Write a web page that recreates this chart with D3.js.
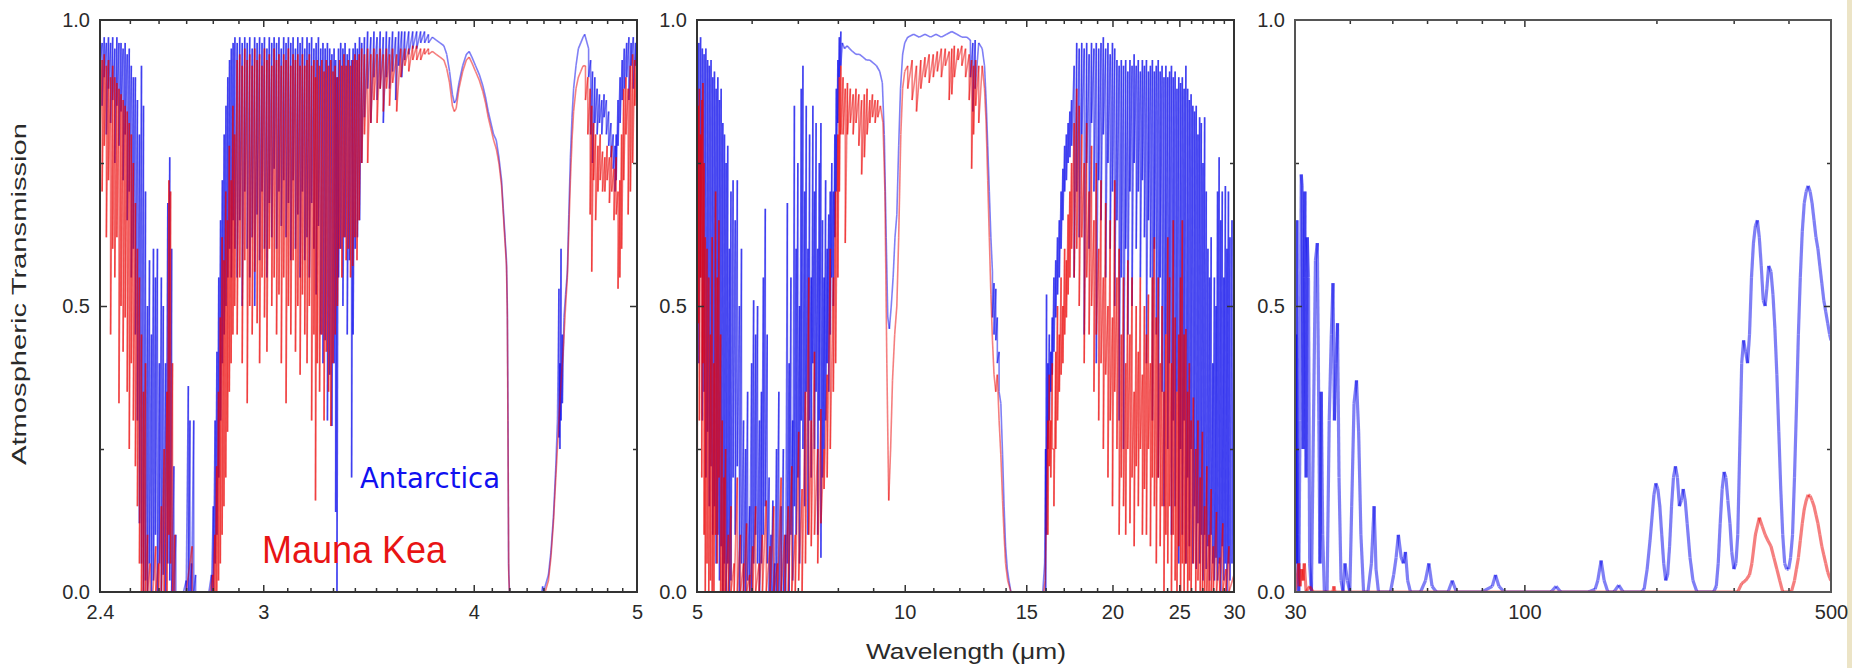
<!DOCTYPE html>
<html><head><meta charset="utf-8">
<script src="https://cdn.jsdelivr.net/npm/d3@7"></script>
<style>html,body{margin:0;padding:0;background:#fff;} svg{display:block;}</style>
</head><body>
<svg id="chart" width="1852" height="668"></svg>
<script>
// ---------------- DATA ----------------
// Each entry: [wavelength (µm), transmission] or [wavelength, max, min] for a densely-lined bin
const yTickValues = [0, 0.5, 1];
const yMinorValues = [0.25, 0.75];

const nirDomain = [2.4, 5];
const nirTickValues = [2.4, 3, 4, 5];
const nirMinorValues = [2.5,2.6,2.7,2.8,2.9,3.1,3.2,3.3,3.4,3.5,3.6,3.7,3.8,3.9,4.1,4.2,4.3,4.4,4.5,4.6,4.7,4.8,4.9];

const midDomain = [5, 30];
const midTickValues = [5, 10, 15, 20, 25, 30];
const midMinorValues = [6,7,8,9,11,12,13,14,16,17,18,19,21,22,23,24,26,27,28,29];

const farDomain = [30, 500];
const farTickValues = [30, 100, 500];
const farMinorValues = [40,50,60,70,80,90,200,300,400];

const nirAntarctica = [
[2.400,0.97,0.92],[2.407,0.96,0.85],[2.414,0.97,0.90],[2.421,0.96,0.80],[2.428,0.97,0.88],[2.435,0.96,0.82],[2.442,0.97,0.86],[2.449,0.95,0.75],[2.456,0.97,0.85],[2.463,0.96,0.78],[2.470,0.96,0.84],[2.477,0.95,0.72],[2.484,0.96,0.80],[2.491,0.94,0.65],[2.498,0.95,0.70],[2.505,0.92,0.55],[2.512,0.90,0.60],
[2.519,0.90,0.45],[2.526,0.86,0.30],[2.533,0.80,0.12],[2.540,0.92,0.05],[2.547,0.85,0.00],[2.554,0.70,0.02],[2.561,0.50,0.00],[2.568,0.58,0.05],[2.575,0.45,0.00],[2.582,0.60,0.02],[2.589,0.55,0.10],[2.596,0.60,0.00],[2.603,0.40,0.05],[2.610,0.55,0.00],[2.617,0.50,0.03],[2.625,0.40,0.00],[2.633,0.68,0.05],[2.640,0.76,0.02],[2.647,0.60,0.00],[2.655,0.22,0.00],[2.662,0.10,0.00],[2.670,0.00],
[2.690,0.00],[2.700,0.02,0.00],[2.708,0.36,0.00],[2.714,0.30,0.00],[2.720,0.05,0.00],[2.728,0.30,0.00],[2.735,0.03,0.00],[2.750,0.00],[2.785,0.00],
[2.795,0.03,0.00],[2.802,0.15,0.00],[2.809,0.30,0.05],[2.816,0.42,0.10],[2.823,0.55,0.20],[2.830,0.65,0.30],[2.837,0.72,0.40],[2.844,0.80,0.45],[2.851,0.85,0.50],[2.858,0.90,0.55],[2.865,0.93,0.60],[2.872,0.95,0.55],[2.879,0.96,0.65],[2.886,0.97,0.60],
[2.895,0.96,0.55],[2.905,0.97,0.65],[2.915,0.96,0.50],[2.925,0.97,0.70],[2.935,0.96,0.60],[2.945,0.97,0.55],[2.955,0.95,0.62],[2.965,0.97,0.50],[2.975,0.96,0.66],[2.985,0.97,0.58],[2.995,0.96,0.70],[3.005,0.97,0.60],[3.015,0.95,0.55],[3.025,0.97,0.68],[3.035,0.96,0.62],[3.045,0.97,0.74],[3.055,0.96,0.60],[3.065,0.97,0.70],[3.075,0.95,0.64],[3.085,0.97,0.72],[3.095,0.96,0.62],[3.105,0.97,0.68],[3.115,0.96,0.58],[3.125,0.97,0.72],[3.135,0.95,0.60],[3.145,0.97,0.66],[3.155,0.96,0.55],[3.165,0.97,0.70],[3.175,0.95,0.58],[3.185,0.97,0.62],[3.195,0.96,0.55],[3.205,0.97,0.68],[3.215,0.95,0.60],[3.225,0.96,0.52],[3.235,0.97,0.64],[3.245,0.95,0.45],[3.255,0.96,0.40],[3.265,0.95,0.44],[3.275,0.96,0.30],[3.285,0.95,0.38],[3.295,0.94,0.29],[3.305,0.95,0.40],[3.312,0.93,0.14],[3.318,0.90,0.00],[3.325,0.95,0.55],[3.335,0.96,0.60],[3.345,0.95,0.50],[3.355,0.96,0.62],[3.365,0.94,0.45],[3.375,0.95,0.58],[3.385,0.93,0.20],[3.392,0.95,0.45],[3.402,0.96,0.60],[3.412,0.95,0.62],[3.422,0.97,0.65],[3.432,0.96,0.75],
[3.445,0.97,0.83],[3.460,0.98,0.88],[3.475,0.97,0.82],[3.490,0.98,0.90],[3.505,0.97,0.86],[3.520,0.98,0.88],[3.535,0.97,0.82],[3.550,0.98,0.90],[3.565,0.97,0.88],[3.580,0.98,0.91],[3.595,0.97,0.86],[3.610,0.98,0.92],[3.625,0.98,0.90],[3.640,0.98,0.93],[3.660,0.98,0.94],[3.680,0.98,0.95],[3.700,0.98,0.95],[3.720,0.98,0.96],[3.740,0.98,0.96],[3.760,0.975,0.96],[3.780,0.97],[3.800,0.965],[3.820,0.96],[3.840,0.955],[3.855,0.94],
[3.870,0.91],[3.885,0.87],[3.895,0.855],[3.905,0.86],[3.920,0.89],[3.940,0.92],[3.960,0.94],[3.975,0.945],[3.990,0.935],[4.010,0.92],[4.030,0.905],[4.050,0.885],[4.065,0.865],[4.080,0.84],[4.095,0.82],[4.110,0.80],[4.125,0.79],[4.140,0.76],[4.155,0.72],[4.165,0.67],[4.175,0.62],[4.183,0.58],[4.188,0.50],[4.192,0.30],[4.195,0.05],[4.200,0.00],
[4.300,0.00],[4.390,0.00],[4.395,0.01],[4.400,0.00],
[4.410,0.01],[4.430,0.03],[4.445,0.07],[4.460,0.13],[4.475,0.22],[4.485,0.30],[4.494,0.53,0.27],[4.500,0.40,0.25],[4.507,0.60,0.30],[4.515,0.45,0.33],[4.525,0.48],[4.535,0.52],[4.546,0.56],[4.555,0.66],[4.565,0.76],[4.575,0.83],[4.585,0.88],[4.600,0.92],[4.615,0.95],[4.630,0.96],[4.645,0.97],[4.655,0.975],
[4.665,0.965],[4.680,0.95,0.90],[4.693,0.93,0.80],[4.705,0.91,0.75],[4.720,0.90,0.82],[4.735,0.88,0.80],[4.750,0.87,0.82],[4.765,0.86,0.80],[4.780,0.87,0.83],[4.795,0.86,0.80],[4.810,0.84,0.78],[4.825,0.82,0.76],[4.840,0.80,0.74],[4.852,0.78,0.70],[4.860,0.80,0.72],[4.872,0.86,0.78],[4.886,0.90,0.82],[4.900,0.93,0.86],[4.914,0.95,0.88],[4.930,0.96,0.90],[4.945,0.97,0.86],[4.960,0.96,0.92],[4.975,0.97,0.88],[4.990,0.96,0.92],[5.000,0.97,0.93]
];

const nirMaunaKea = [
[2.400,0.95,0.80],[2.407,0.93,0.70],[2.414,0.94,0.78],[2.421,0.92,0.62],[2.428,0.93,0.72],[2.435,0.90,0.45],[2.442,0.92,0.60],[2.449,0.90,0.55],[2.456,0.89,0.62],[2.463,0.88,0.33],[2.470,0.87,0.50],[2.477,0.86,0.42],[2.484,0.85,0.48],[2.491,0.84,0.35],[2.498,0.82,0.25],[2.505,0.80,0.40],[2.512,0.75,0.30],[2.519,0.68,0.22],[2.526,0.60,0.15],[2.533,0.55,0.05],[2.540,0.45,0.00],[2.547,0.35,0.00],[2.554,0.40,0.00],[2.561,0.10,0.00],[2.570,0.05,0.00],[2.580,0.00],[2.590,0.08,0.00],[2.600,0.05,0.00],[2.610,0.15,0.00],[2.620,0.25,0.00],[2.630,0.35,0.00],[2.637,0.72,0.10],[2.643,0.70,0.05],[2.650,0.40,0.00],[2.658,0.10,0.00],[2.665,0.00],
[2.700,0.00],[2.722,0.08,0.00],[2.730,0.00],[2.790,0.00],
[2.800,0.03,0.00],[2.808,0.10,0.00],[2.815,0.22,0.00],[2.822,0.35,0.02],[2.829,0.48,0.05],[2.836,0.62,0.10],[2.843,0.58,0.15],[2.850,0.70,0.20],[2.857,0.65,0.28],[2.864,0.78,0.35],[2.871,0.72,0.40],[2.878,0.85,0.45],[2.885,0.80,0.50],
[2.895,0.93,0.45],[2.905,0.94,0.55],[2.915,0.92,0.40],[2.925,0.95,0.58],[2.935,0.93,0.33],[2.945,0.94,0.50],[2.955,0.92,0.45],[2.965,0.95,0.56],[2.975,0.93,0.47],[2.985,0.94,0.40],[2.995,0.92,0.55],[3.005,0.95,0.48],[3.015,0.93,0.42],[3.025,0.94,0.60],[3.035,0.92,0.50],[3.045,0.95,0.55],[3.055,0.93,0.45],[3.065,0.94,0.52],[3.075,0.92,0.40],[3.085,0.94,0.55],[3.095,0.93,0.33],[3.105,0.95,0.50],[3.115,0.92,0.45],[3.125,0.94,0.58],[3.135,0.93,0.42],[3.145,0.94,0.50],[3.155,0.92,0.38],[3.165,0.94,0.52],[3.175,0.92,0.45],[3.185,0.93,0.40],[3.195,0.94,0.50],[3.205,0.92,0.30],[3.215,0.93,0.45],[3.222,0.90,0.16],[3.230,0.93,0.40],[3.240,0.92,0.35],[3.250,0.93,0.45],[3.260,0.91,0.30],[3.270,0.93,0.42],[3.280,0.92,0.35],[3.290,0.93,0.29],[3.300,0.91,0.40],[3.310,0.92,0.45],[3.320,0.90,0.50],[3.330,0.93,0.60],[3.340,0.92,0.55],[3.350,0.94,0.62],[3.360,0.92,0.58],[3.370,0.93,0.60],[3.380,0.92,0.55],[3.390,0.93,0.57],[3.400,0.94,0.62],[3.410,0.93,0.58],[3.420,0.94,0.65],[3.432,0.95,0.75],
[3.445,0.94,0.80],[3.460,0.95,0.75],[3.475,0.94,0.82],[3.490,0.95,0.86],[3.505,0.94,0.82],[3.520,0.95,0.88],[3.535,0.94,0.84],[3.550,0.95,0.88],[3.565,0.94,0.85],[3.580,0.95,0.89],[3.600,0.94,0.84],[3.620,0.95,0.90],[3.640,0.95,0.92],[3.660,0.95,0.91],[3.680,0.955,0.93],[3.700,0.955,0.93],[3.720,0.95,0.93],[3.740,0.95,0.94],[3.760,0.95,0.94],[3.780,0.945],[3.800,0.94],[3.820,0.935],[3.840,0.93],[3.855,0.915],
[3.870,0.89],[3.885,0.85],[3.895,0.84],[3.905,0.845],[3.920,0.88],[3.940,0.91],[3.960,0.93],[3.975,0.935],[3.990,0.925],[4.010,0.91],[4.030,0.895],[4.050,0.875],[4.065,0.855],[4.080,0.83],[4.095,0.81],[4.110,0.79],[4.125,0.775],[4.140,0.75],[4.155,0.71],[4.165,0.66],[4.175,0.61],[4.183,0.57],[4.188,0.48],[4.192,0.25],[4.196,0.03],[4.200,0.00],
[4.300,0.00],[4.400,0.00],
[4.410,0.00],[4.430,0.02],[4.445,0.06],[4.460,0.12],[4.475,0.20],[4.490,0.28],[4.505,0.36],[4.520,0.42],[4.535,0.50],[4.546,0.55],[4.555,0.63],[4.565,0.72],[4.575,0.79],[4.585,0.84],[4.600,0.88],[4.615,0.90],[4.630,0.91],[4.645,0.92],
[4.660,0.92,0.86],[4.675,0.90,0.80],[4.690,0.88,0.66],[4.700,0.85,0.56],[4.712,0.82,0.72],[4.725,0.80,0.65],[4.740,0.78,0.70],[4.755,0.80,0.72],[4.770,0.77,0.70],[4.785,0.76,0.70],[4.800,0.78,0.72],[4.815,0.76,0.68],[4.830,0.78,0.70],[4.845,0.74,0.65],[4.860,0.76,0.66],[4.872,0.70,0.53],[4.884,0.72,0.55],[4.896,0.80,0.60],[4.910,0.88,0.72],[4.925,0.90,0.80],[4.940,0.88,0.66],[4.955,0.92,0.70],[4.970,0.94,0.75],[4.985,0.93,0.85],[5.000,0.95,0.90]
];

const midAntarctica = [
[5.00,0.97,0.50],[5.03,0.96,0.40],[5.06,0.97,0.55],[5.09,0.95,0.30],[5.12,0.94,0.35],[5.15,0.95,0.20],[5.18,0.93,0.28],[5.21,0.92,0.15],[5.24,0.93,0.22],[5.27,0.90,0.10],[5.30,0.91,0.15],[5.33,0.88,0.05],[5.36,0.90,0.10],[5.39,0.86,0.02],[5.42,0.88,0.08],[5.45,0.82,0.00],[5.48,0.80,0.05],[5.51,0.75,0.00],[5.54,0.78,0.05],[5.57,0.60,0.00],
[5.60,0.70,0.02],[5.64,0.72,0.20],[5.68,0.65,0.10],[5.72,0.72,0.22],[5.76,0.50,0.00],[5.80,0.60,0.05],[5.84,0.30,0.00],[5.88,0.25,0.00],[5.92,0.35,0.02],[5.96,0.15,0.00],[6.00,0.40,0.00],[6.04,0.51,0.05],[6.08,0.45,0.10],[6.12,0.50,0.05],[6.16,0.30,0.00],[6.20,0.35,0.05],[6.24,0.55,0.10],[6.28,0.67,0.15],[6.32,0.45,0.05],[6.36,0.20,0.00],[6.40,0.10,0.00],[6.44,0.16,0.00],[6.48,0.05,0.00],[6.52,0.25,0.00],[6.57,0.35,0.00],[6.62,0.15,0.00],[6.67,0.25,0.00],[6.72,0.10,0.00],
[6.76,0.68,0.05],[6.80,0.40,0.00],[6.84,0.55,0.10],[6.88,0.30,0.02],[6.92,0.85,0.15],[6.96,0.60,0.10],[7.00,0.75,0.20],[7.04,0.50,0.05],[7.08,0.88,0.30],[7.12,0.92,0.25],[7.16,0.70,0.15],[7.20,0.85,0.35],[7.24,0.60,0.10],[7.28,0.80,0.30],[7.32,0.55,0.20],[7.36,0.85,0.40],[7.40,0.70,0.25],[7.44,0.82,0.35],[7.48,0.60,0.10],[7.52,0.75,0.30],[7.56,0.82,0.06],[7.60,0.65,0.20],[7.64,0.55,0.25],[7.68,0.72,0.30],[7.72,0.60,0.40],[7.76,0.66,0.35],[7.80,0.70,0.45],[7.84,0.75,0.55],[7.88,0.70,0.50],[7.92,0.80,0.62],[7.96,0.88,0.70],
[8.00,0.93,0.82],[8.04,0.97,0.90],[8.08,0.98,0.92],[8.12,0.96],[8.18,0.95],[8.25,0.955],[8.32,0.95],[8.40,0.945],[8.50,0.94],[8.60,0.94],[8.70,0.935],[8.80,0.93],[8.90,0.93],[9.00,0.925],[9.10,0.92],[9.20,0.91],[9.28,0.89],[9.34,0.80],[9.40,0.62],[9.45,0.48],[9.50,0.46],[9.56,0.50],[9.62,0.55],[9.68,0.62],[9.74,0.66],[9.80,0.78],[9.86,0.88],[9.93,0.94],[10.00,0.96],
[10.10,0.97],[10.30,0.975],[10.50,0.97],[10.70,0.975],[10.90,0.97],[11.10,0.975],[11.30,0.97],[11.50,0.975],[11.70,0.98],[11.90,0.975],[12.10,0.97],[12.30,0.97],[12.45,0.965,0.90],[12.55,0.96,0.84],[12.65,0.965,0.88],[12.80,0.96],[12.95,0.95],
[13.05,0.92],[13.12,0.86],[13.19,0.78],[13.26,0.70],[13.33,0.62],[13.40,0.56,0.48],[13.47,0.54,0.45],[13.55,0.53,0.44],[13.62,0.48,0.40],[13.70,0.42,0.35],[13.78,0.33],[13.86,0.24],[13.93,0.15],[14.00,0.08],[14.08,0.04],[14.16,0.02],[14.25,0.00],
[15.00,0.00],[15.85,0.00],
[15.95,0.05],[16.00,0.25,0.00],[16.05,0.52,0.10],[16.12,0.40,0.25],[16.20,0.45,0.30],[16.28,0.42,0.35],[16.36,0.48,0.38],[16.45,0.55,0.42],[16.55,0.58,0.48],[16.65,0.62,0.52],[16.75,0.65,0.55],[16.85,0.70,0.60],[16.95,0.74,0.65],[17.05,0.78,0.70],[17.15,0.80,0.72],[17.25,0.82,0.75],[17.35,0.84,0.76],[17.45,0.86,0.78],
[17.60,0.92,0.55],[17.75,0.96,0.70],[17.90,0.95,0.62],[18.05,0.96,0.80],[18.20,0.95,0.45],[18.35,0.96,0.75],[18.50,0.94,0.60],[18.65,0.96,0.82],[18.80,0.95,0.70],[18.95,0.96,0.40],[19.10,0.95,0.72],[19.25,0.96,0.65],[19.40,0.97,0.80],[19.55,0.95,0.55],[19.70,0.96,0.75],[19.85,0.94,0.60],[20.00,0.96,0.70],[20.15,0.95,0.50],[20.30,0.93,0.65],[20.45,0.92,0.30],[20.60,0.93,0.55],[20.75,0.92,0.25],[20.90,0.93,0.60],[21.05,0.91,0.45],[21.20,0.93,0.70],[21.35,0.92,0.50],[21.50,0.94,0.75],[21.65,0.92,0.60],[21.80,0.93,0.70],[21.95,0.91,0.55],[22.10,0.93,0.72],[22.25,0.92,0.62],[22.40,0.93,0.40],[22.55,0.91,0.65],[22.70,0.92,0.55],[22.85,0.93,0.30],[23.00,0.91,0.60],[23.15,0.92,0.45],[23.30,0.93,0.20],[23.45,0.91,0.55],[23.60,0.92,0.35],[23.75,0.90,0.15],[23.90,0.92,0.45],[24.05,0.90,0.25],[24.20,0.91,0.40],[24.35,0.92,0.10],[24.50,0.90,0.30],[24.65,0.91,0.15],[24.80,0.88,0.35],[24.95,0.90,0.05],[25.10,0.89,0.25],[25.25,0.90,0.10],[25.40,0.88,0.30],[25.55,0.92,0.05],[25.70,0.88,0.20],[25.85,0.86,0.08],[26.00,0.87,0.25],[26.15,0.85,0.05],[26.30,0.84,0.15],[26.45,0.85,0.04],[26.60,0.80,0.12],[26.75,0.83,0.05],[26.90,0.82,0.10],[27.05,0.75,0.02],[27.20,0.83,0.10],[27.35,0.70,0.04],[27.50,0.60,0.08],[27.65,0.55,0.02],[27.80,0.62,0.10],[27.95,0.40,0.05],[28.10,0.55,0.02],[28.25,0.50,0.06],[28.40,0.70,0.02],[28.55,0.76,0.05],[28.70,0.65,0.00],[28.85,0.70,0.08],[29.00,0.55,0.02],[29.15,0.71,0.05],[29.30,0.60,0.00],[29.45,0.70,0.05],[29.60,0.62,0.02],[29.80,0.65,0.05],[30.00,0.60,0.00]
];

const midMaunaKea = [
[5.00,0.90,0.05],[5.02,0.85,0.47],[5.04,0.88,0.30],[5.06,0.80,0.55],[5.08,0.86,0.20],[5.10,0.89,0.40],[5.12,0.75,0.10],[5.14,0.62,0.00],[5.17,0.60,0.05],[5.20,0.55,0.00],[5.23,0.45,0.02],[5.26,0.62,0.00],[5.29,0.40,0.00],[5.32,0.70,0.10],[5.35,0.55,0.05],[5.38,0.65,0.20],[5.41,0.45,0.00],[5.44,0.30,0.00],[5.47,0.20,0.00],[5.50,0.25,0.00],[5.55,0.10,0.00],
[5.60,0.15,0.00],[5.66,0.05,0.00],[5.72,0.20,0.00],[5.78,0.10,0.00],[5.84,0.05,0.00],[5.90,0.12,0.00],[5.96,0.03,0.00],[6.02,0.08,0.00],[6.08,0.15,0.00],[6.15,0.05,0.00],[6.22,0.10,0.00],[6.30,0.16,0.00],[6.38,0.08,0.00],[6.46,0.15,0.00],[6.54,0.05,0.00],[6.62,0.20,0.00],[6.70,0.10,0.00],
[6.78,0.15,0.00],[6.86,0.22,0.00],[6.94,0.10,0.00],[7.02,0.28,0.02],[7.10,0.18,0.00],[7.18,0.35,0.05],[7.26,0.55,0.10],[7.32,0.30,0.08],[7.40,0.42,0.10],[7.48,0.25,0.05],[7.56,0.32,0.12],[7.64,0.25,0.18],[7.72,0.38,0.20],[7.80,0.60,0.25],[7.88,0.55,0.35],[7.94,0.70,0.40],
[8.00,0.80,0.55],[8.04,0.90,0.70],[8.08,0.92,0.80],[8.14,0.90,0.80],[8.20,0.88,0.61],[8.26,0.89,0.80],[8.34,0.88,0.82],[8.42,0.87,0.80],[8.50,0.88,0.82],[8.58,0.87,0.78],[8.66,0.86,0.73],[8.74,0.87,0.76],[8.82,0.88,0.80],[8.90,0.86,0.82],[8.98,0.87,0.83],[9.06,0.86,0.82],[9.14,0.86,0.83],[9.22,0.85],[9.30,0.82],[9.36,0.70],[9.42,0.40],[9.48,0.16],[9.54,0.25],[9.60,0.37],[9.67,0.45],[9.74,0.50],[9.80,0.62],[9.87,0.80],[9.93,0.88],[10.00,0.91],
[10.10,0.92,0.88],[10.25,0.93,0.86],[10.40,0.92,0.84],[10.55,0.93,0.88],[10.70,0.935,0.90],[10.85,0.94,0.89],[11.00,0.94,0.90],[11.15,0.945,0.91],[11.30,0.95,0.90],[11.45,0.95,0.92],[11.60,0.945,0.86],[11.70,0.95,0.87],[11.80,0.955,0.90],[11.95,0.95,0.93],[12.10,0.955,0.92],[12.25,0.95,0.90],[12.40,0.94,0.86],[12.50,0.93,0.74],[12.58,0.92,0.80],[12.67,0.93,0.85],[12.80,0.92,0.82],[12.95,0.92],
[13.05,0.88],[13.12,0.82],[13.19,0.72],[13.26,0.62],[13.33,0.52],[13.40,0.44],[13.47,0.38],[13.55,0.35],[13.62,0.38],[13.70,0.30],[13.78,0.24],[13.86,0.16],[13.93,0.10],[14.00,0.05],[14.10,0.02],[14.25,0.00],
[15.00,0.00],[15.90,0.00],
[15.98,0.02],[16.05,0.15],[16.12,0.30,0.10],[16.20,0.38,0.22],[16.28,0.30,0.20],[16.36,0.40,0.25],[16.45,0.25,0.15],[16.55,0.42,0.25],[16.65,0.50,0.30],[16.75,0.45,0.35],[16.85,0.55,0.38],[16.95,0.50,0.40],[17.05,0.60,0.45],[17.15,0.58,0.48],[17.25,0.66,0.52],[17.35,0.70,0.55],[17.45,0.75,0.60],
[17.60,0.82,0.55],[17.75,0.88,0.60],[17.90,0.85,0.50],[18.05,0.80,0.62],[18.20,0.75,0.40],[18.35,0.82,0.55],[18.50,0.70,0.45],[18.65,0.78,0.50],[18.80,0.65,0.35],[18.95,0.75,0.45],[19.10,0.60,0.30],[19.25,0.72,0.40],[19.40,0.55,0.25],[19.55,0.68,0.38],[19.70,0.50,0.20],[19.85,0.65,0.30],[20.00,0.48,0.15],[20.15,0.72,0.35],[20.30,0.55,0.25],[20.45,0.60,0.10],[20.60,0.45,0.20],[20.75,0.55,0.15],[20.90,0.40,0.10],[21.05,0.58,0.25],[21.20,0.45,0.12],[21.35,0.55,0.20],[21.50,0.35,0.08],[21.65,0.50,0.22],[21.80,0.42,0.15],[21.95,0.55,0.25],[22.10,0.38,0.10],[22.25,0.50,0.18],[22.40,0.45,0.10],[22.55,0.52,0.25],[22.70,0.40,0.08],[22.85,0.55,0.20],[23.00,0.62,0.15],[23.15,0.48,0.05],[23.30,0.55,0.20],[23.45,0.40,0.08],[23.60,0.50,0.15],[23.75,0.35,0.00],[23.90,0.45,0.10],[24.05,0.62,0.05],[24.20,0.55,0.15],[24.35,0.40,0.00],[24.50,0.65,0.10],[24.65,0.48,0.02],[24.80,0.35,0.00],[24.95,0.45,0.08],
[25.10,0.55,0.00],[25.25,0.65,0.05],[25.40,0.45,0.00],[25.55,0.46,0.05],[25.70,0.35,0.00],[25.85,0.40,0.02],[26.00,0.30,0.00],[26.20,0.34,0.05],[26.40,0.25,0.00],[26.60,0.30,0.02],[26.80,0.20,0.00],[27.00,0.28,0.00],[27.20,0.15,0.00],[27.40,0.22,0.00],[27.60,0.10,0.00],[27.80,0.18,0.00],[28.00,0.08,0.00],[28.30,0.14,0.00],[28.60,0.06,0.00],[28.90,0.12,0.00],[29.20,0.04,0.00],[29.50,0.08,0.00],[30.00,0.03,0.00]
];

const farAntarctica = [
[30.00,0.00],[30.10,0.45],[30.20,0.05],[30.30,0.65],[30.45,0.10],[30.60,0.00],[30.80,0.30],[31.00,0.73],[31.15,0.71],[31.30,0.25],[31.45,0.55],[31.60,0.70],[31.80,0.20],[32.00,0.62],[32.20,0.55],[32.40,0.05],[32.70,0.00],[33.00,0.25],[33.40,0.58],[33.73,0.61],[34.00,0.30],[34.20,0.05],[34.43,0.35],[34.70,0.10],[35.00,0.00],[35.50,0.00],[35.90,0.30],[36.30,0.45],[36.62,0.54],[36.90,0.30],[37.20,0.40],[37.50,0.47],[37.80,0.20],[38.20,0.02],[38.60,0.00],[39.00,0.05],[39.50,0.02],[40.00,0.00],[40.40,0.15],[40.90,0.33],[41.43,0.37],[41.90,0.28],[42.40,0.10],[43.00,0.00],[44.00,0.00],[44.80,0.05],[45.44,0.15],[45.90,0.04],[46.50,0.00],[48.00,0.00],[49.50,0.00],[50.36,0.03],[51.00,0.06],[51.60,0.10],[52.40,0.06],[53.00,0.05],[53.56,0.07],[54.20,0.02],[55.00,0.00],[58.00,0.00],[59.50,0.02],[60.57,0.05],[61.60,0.01],[63.00,0.00],[67.00,0.00],[68.49,0.02],[70.00,0.00],[80.00,0.00],[84.50,0.01],[85.93,0.03],[87.50,0.01],[90.00,0.00],[100.0,0.00],[115.0,0.00],[118.1,0.01],[121.0,0.00],[140.0,0.00],[145.0,0.005],[147.0,0.02],[149.6,0.055],[152.0,0.02],[155.0,0.00],[160.0,0.00],[164.1,0.012],[168.0,0.00],[185.0,0.00],[187.5,0.005],[190.5,0.04],[193.4,0.09],[197.4,0.17],[199.4,0.19],[201.5,0.18],[203.6,0.15],[205.7,0.10],[207.8,0.05],[210.0,0.02],[212.1,0.03],[214.3,0.08],[216.5,0.15],[218.7,0.20],[221.0,0.22],[223.3,0.20],[225.6,0.15],[227.9,0.16],[230.2,0.18],[232.6,0.16],[235.0,0.12],[238.6,0.06],[242.3,0.02],[247.4,0.00],[270.0,0.00],[273.8,0.01],[276.6,0.05],[279.5,0.12],[282.4,0.18],[285.3,0.21],[288.0,0.20],[291.0,0.16],[294.2,0.12],[297.0,0.07],[300.3,0.04],[303.5,0.05],[306.5,0.10],[309.7,0.25],[312.9,0.40],[316.0,0.44],[319.4,0.42],[322.7,0.40],[326.0,0.45],[329.4,0.55],[332.8,0.61],[336.2,0.64],[339.7,0.65],[343.2,0.62],[346.7,0.57],[350.3,0.51],[353.9,0.50],[357.0,0.53],[360.5,0.57],[364.9,0.56],[368.7,0.52],[372.5,0.46],[376.3,0.38],[380.2,0.28],[384.1,0.18],[388.1,0.10],[392.1,0.05],[396.2,0.04],[400.3,0.04],[404.4,0.06],[408.6,0.10],[412.8,0.20],[417.0,0.32],[421.3,0.45],[425.6,0.55],[430.0,0.63],[434.5,0.68],[439.0,0.70],[443.5,0.71],[448.1,0.70],[452.7,0.68],[457.4,0.65],[462.1,0.62],[466.8,0.60],[471.6,0.57],[476.5,0.54],[481.4,0.51],[486.4,0.49],[491.4,0.47],[496.5,0.45],[500.0,0.44]
];

const farMaunaKea = [
[30.00,0.00],[30.30,0.02],[30.60,0.05],[30.80,0.01],[31.07,0.04],[31.30,0.02],[31.50,0.05],[31.80,0.00],[32.40,0.01],[33.00,0.00],[36.60,0.00],[36.80,0.01],[37.00,0.00],[300.0,0.00],[306.5,0.00],[312.9,0.015],[319.4,0.02],[326.0,0.03],[330.1,0.05],[336.2,0.10],[343.2,0.13],[348.5,0.115],[353.9,0.10],[359.0,0.09],[364.9,0.08],[370.5,0.06],[376.3,0.04],[382.1,0.02],[388.1,0.00],[406.0,0.00],[412.8,0.02],[417.0,0.04],[421.3,0.06],[425.6,0.09],[430.0,0.12],[434.5,0.145],[439.0,0.16],[443.5,0.17],[448.1,0.168],[452.7,0.16],[457.4,0.15],[462.1,0.135],[466.8,0.12],[471.6,0.10],[476.5,0.08],[481.4,0.065],[486.4,0.05],[491.4,0.035],[496.5,0.025],[500.0,0.02]
];

// ---------------- LAYOUT ----------------
const svg = d3.select("#chart");
svg.append("rect").attr("width",1852).attr("height",668).attr("fill","#fff");
svg.append("rect").attr("x",1847).attr("y",0).attr("width",5).attr("height",668).attr("fill","#ece4c6");

const plotTop = 20, plotBottom = 592;
const y = d3.scaleLinear().domain([0,1]).range([plotBottom, plotTop]);
const panels = [
  {x0:100, x1:637, domain:nirDomain, ticks:nirTickValues, minor:nirMinorValues, fmt:d3.format(".1~f"), red:nirMaunaKea, blue:nirAntarctica, w:1.6},
  {x0:697, x1:1234, domain:midDomain, ticks:midTickValues, minor:midMinorValues, fmt:d3.format("d"), red:midMaunaKea, blue:midAntarctica, w:1.6},
  {x0:1295, x1:1831, domain:farDomain, ticks:farTickValues, minor:farMinorValues, fmt:d3.format("d"), red:farMaunaKea, blue:farAntarctica, w:3.2}
];
const FONT = "'Liberation Sans', Arial, Helvetica, sans-serif";
const BLUE = "rgba(0,0,235,0.5)";
const RED = "rgba(235,0,0,0.5)";

function expand(data){
  const pts = [];
  data.forEach(d => {
    if (d.length === 3) { pts.push([d[0], d[1]]); pts.push([d[0], d[2]]); }
    else pts.push([d[0], d[1]]);
  });
  return pts;
}
function drawSeries(g, data, x, color, w){
  const segs = d3.pairs(expand(data));
  g.append("g").selectAll("line").data(segs).join("line")
    .attr("x1", s => x(s[0][0])).attr("y1", s => y(s[0][1]))
    .attr("x2", s => x(s[1][0])).attr("y2", s => y(s[1][1]))
    .attr("stroke", color).attr("stroke-width", w).attr("stroke-linecap","butt");
}

panels.forEach((p, i) => {
  const x = d3.scaleLog().domain(p.domain).range([p.x0, p.x1]);
  const g = svg.append("g");
  const clipId = "clip" + i;
  svg.append("clipPath").attr("id", clipId).append("rect")
    .attr("x", p.x0).attr("y", plotTop - 2).attr("width", p.x1 - p.x0).attr("height", plotBottom - plotTop + 2);
  const plot = g.append("g").attr("clip-path", `url(#${clipId})`);
  drawSeries(plot, p.blue, x, BLUE, p.w);
  drawSeries(plot, p.red, x, RED, p.w);

  const inner = p.ticks.filter((t,k) => k>0 && k<p.ticks.length-1);
  const bAx = g.append("g").attr("transform",`translate(0,${plotBottom})`)
    .call(d3.axisBottom(x).tickValues(p.ticks).tickFormat(p.fmt).tickSize(-7).tickSizeOuter(0).tickPadding(13));
  bAx.selectAll("line").filter(d => !inner.includes(d)).remove();
  g.append("g").attr("transform",`translate(0,${plotBottom})`)
    .call(d3.axisBottom(x).tickValues(p.minor).tickFormat("").tickSize(-4).tickSizeOuter(0));
  g.append("g").attr("transform",`translate(0,${plotTop})`)
    .call(d3.axisTop(x).tickValues(inner).tickFormat("").tickSize(-7).tickSizeOuter(0));
  g.append("g").attr("transform",`translate(0,${plotTop})`)
    .call(d3.axisTop(x).tickValues(p.minor).tickFormat("").tickSize(-4).tickSizeOuter(0));

  const lAx = g.append("g").attr("transform",`translate(${p.x0},0)`)
    .call(d3.axisLeft(y).tickValues(yTickValues).tickFormat(d3.format(".1f")).tickSize(-7).tickSizeOuter(0).tickPadding(10));
  lAx.selectAll("line").filter(d => d===0 || d===1).remove();
  g.append("g").attr("transform",`translate(${p.x0},0)`)
    .call(d3.axisLeft(y).tickValues(yMinorValues).tickFormat("").tickSize(-4).tickSizeOuter(0));
  g.append("g").attr("transform",`translate(${p.x1},0)`)
    .call(d3.axisRight(y).tickValues([0.5]).tickFormat("").tickSize(-7).tickSizeOuter(0));
  g.append("g").attr("transform",`translate(${p.x1},0)`)
    .call(d3.axisRight(y).tickValues(yMinorValues).tickFormat("").tickSize(-4).tickSizeOuter(0));

  g.selectAll(".domain").remove();
  g.selectAll(".tick line").attr("stroke","#333").attr("stroke-width",1.5);
  g.selectAll(".tick text").attr("font-family",FONT).attr("font-size",20).attr("fill","#2a2a2a");

  g.append("rect").attr("x",p.x0).attr("y",plotTop).attr("width",p.x1-p.x0).attr("height",plotBottom-plotTop)
    .attr("fill","none").attr("stroke", i===2 ? "#555" : "#333").attr("stroke-width",2);
});

svg.append("text").attr("x",966).attr("y",659).attr("text-anchor","middle")
  .attr("font-family",FONT).attr("font-size",22).attr("fill","#2a2a2a")
  .attr("textLength",200).attr("lengthAdjust","spacingAndGlyphs")
  .text("Wavelength (\u03bcm)");
svg.append("text").attr("transform","translate(26,294) rotate(-90)").attr("text-anchor","middle")
  .attr("font-family",FONT).attr("font-size",21).attr("fill","#2a2a2a")
  .attr("textLength",342).attr("lengthAdjust","spacingAndGlyphs")
  .text("Atmospheric Transmission");

svg.append("text").attr("x",360).attr("y",488)
  .attr("font-family","'DejaVu Sans', Verdana, sans-serif").attr("font-size",28).attr("fill","#1010f0")
  .attr("textLength",140).attr("lengthAdjust","spacingAndGlyphs")
  .text("Antarctica");
svg.append("text").attr("x",262).attr("y",563)
  .attr("font-family",FONT).attr("font-size",38).attr("fill","#e81414")
  .attr("textLength",184).attr("lengthAdjust","spacingAndGlyphs")
  .text("Mauna Kea");
</script>
</body></html>
